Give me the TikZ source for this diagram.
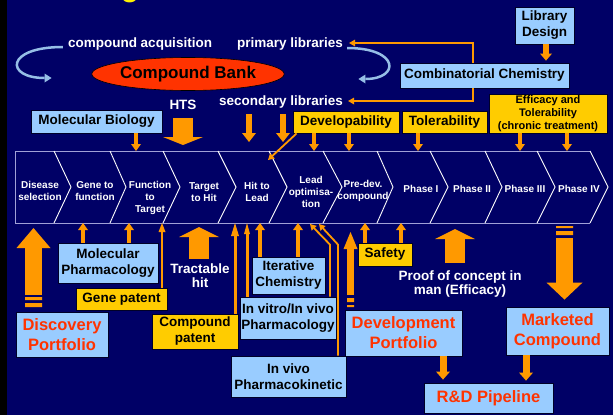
\documentclass[tikz,border=0pt]{standalone}
\usepackage{fontspec}
\setmainfont{Liberation Sans}
\usetikzlibrary{arrows.meta,calc,shapes.geometric}
\definecolor{navy}{RGB}{0,0,102}
\definecolor{lb}{RGB}{153,204,255}
\definecolor{yel}{RGB}{255,204,0}
\definecolor{orng}{RGB}{255,153,0}
\definecolor{redt}{RGB}{255,51,0}
\definecolor{lav}{RGB}{160,160,215}
\definecolor{curv}{RGB}{150,190,230}
\definecolor{edge}{RGB}{0,0,40}
\tikzset{
 lbl/.style={font=\bfseries\fontsize{13.5}{16}\selectfont, align=center, inner sep=0pt},
 bbox/.style={lbl, draw=edge, line width=0.8pt, fill=lb},
 ybox/.style={lbl, draw=edge, line width=0.8pt, fill=yel},
 rbox/.style={bbox, text=redt, font=\bfseries\fontsize{16.5}{20}\selectfont},
 wtxt/.style={lbl, text=white, font=\bfseries\fontsize{13.5}{14}\selectfont},
 cell/.style={font=\bfseries\fontsize{10}{12}\selectfont, text=white, align=center, inner sep=0pt},
 barrow/.style n args={3}{draw=orng, line width=#1pt, -{Triangle[width=#2pt,length=#3pt,line width=0pt]}},
 tarrow/.style={draw=orng, line width=1.8pt, -{Triangle[width=7pt,length=6pt,line width=0pt]}},
 curvarrow/.style={draw=curv, line width=2.5pt, -{Triangle[width=9pt,length=7pt,line width=0pt]}},
 sz/.style 2 args={minimum width=#1pt, minimum height=#2pt},
}
\begin{document}
\begin{tikzpicture}[x=1pt,y=-1pt]
% background
\fill[navy] (0,0) rectangle (613,415);
\fill[black] (0,0) rectangle (7,415);
\useasboundingbox (0,0) rectangle (613,415);
\begin{scope}
\clip (0,0) rectangle (613,415);
\node[anchor=base, text=yellow, font=\bfseries\fontsize{30}{30}\selectfont, inner sep=0pt] (title) at (130,-3.5) {g};
\end{scope}

% process band
\coordinate (bandT) at (0,151);
\coordinate (bandB) at (0,223);
\draw[lav, line width=1pt] (590,151) -- (15,151) -- (15,223) -- (590,223);
\draw[white, line width=0.9pt] (590,151) -- (608,187) -- (590,223);
\foreach \x/\d in {54/17,110/16,163/17,218/18,269/18,323/19,377/16,430/18,485/17,537/18}
  \draw[white, line width=0.9pt] (\x,151) -- (\x+\d,187) -- (\x,223);
\node[cell] (c1) at (40,191) {Disease\\selection};
\node[cell] (c2) at (95,191) {Gene to\\function};
\node[cell] (c3) at (150,198) {Function\\to\\Target};
\node[cell] (c4) at (204,192) {Target\\to Hit};
\node[cell] (c5) at (257,192) {Hit to\\Lead};
\node[cell] (c6) at (311,192) {Lead\\optimisa-\\tion};
\node[cell] (c7) at (363,191) {Pre-dev.\\compound};
\node[cell] (c8) at (421,189) {Phase I};
\node[cell] (c9) at (472,189) {Phase II};
\node[cell] (c10) at (525,189) {Phase III};
\node[cell] (c11) at (579,189) {Phase IV};

% top nodes
\node[bbox, sz={59}{37}] (libd) at (544.5,25.5) {Library\\Design};
\node[bbox, sz={169}{25}] (comb) at (484.5,75.5) {Combinatorial Chemistry};
\node[ellipse, draw=black, line width=0.6pt, fill=redt, minimum width=169pt, minimum height=33pt, inner sep=0pt, font=\bfseries\fontsize{17}{20}\selectfont] (bank) at (188,74) {Compound Bank};
\node[wtxt] (acq) at (140,44) {compound acquisition};
\node[wtxt] (prim) at (290,44) {primary libraries};
\node[wtxt] (sec) at (281,102) {secondary libraries};
\node[wtxt] (hts) at (183,105) {HTS};
\node[bbox, sz={131}{23}] (molbio) at (96.5,121.5) {Molecular Biology};
\node[ybox, sz={106}{22}] (dev) at (346,122) {Developability};
\node[ybox, sz={85}{22}] (tol) at (444.5,122) {Tolerability};
\node[ybox, sz={118}{39}, font=\bfseries\fontsize{11}{12.8}\selectfont] (eff) at (548,113.5) {Efficacy and\\Tolerability\\(chronic treatment)};

% bottom nodes
\node[bbox, sz={100}{40}] (molph) at (108,263) {Molecular\\Pharmacology};
\node[ybox, sz={91}{22}] (gene) at (121.5,299) {Gene patent};
\node[rbox, sz={92}{45}] (disc) at (62,334.5) {Discovery\\Portfolio};
\node[wtxt] (tract) at (200,276) {Tractable\\hit};
\node[ybox, sz={86}{35}] (cpat) at (195,331.5) {Compound\\patent};
\node[bbox, sz={73}{37}] (iter) at (288.5,275.5) {Iterative\\Chemistry};
\node[bbox, sz={96}{42}] (invitro) at (288,318) {In vitro/In vivo\\Pharmacology};
\node[bbox, sz={115}{41}] (pk) at (288.5,376.5) {In vivo\\Pharmacokinetic};
\node[ybox, sz={54}{23}] (safety) at (385,254.5) {Safety};
\node[wtxt] (poc) at (460,284.5) {Proof of concept in\\man (Efficacy)};
\node[rbox, sz={117}{46}] (devp) at (403.5,333) {Development\\Portfolio};
\node[rbox, sz={103}{48}] (mkt) at (557.5,331) {Marketed\\Compound};
\node[rbox, sz={129}{30}] (rd) at (488.5,398) {R\&D Pipeline};

% curved arrows
\draw[curvarrow] ($(acq.west)+(-5,3)$) .. controls (5,47) and (5,78) .. ($(bank.west)+(-40,4)$);
\draw[curvarrow] ($(prim.east)+(4,4)$) .. controls (400,48) and (400,79) .. ($(bank.east)+(74,5)$);

% library design / combinatorial chemistry
\draw[barrow={6}{12}{7}] (libd.south -| 546,0) -- ($(comb.north -| 546,0)+(0,-2)$);
\draw[tarrow] (comb.north -| 473,0) |- ($(prim.east)+(6,-1)$);
\draw[tarrow] (comb.south -| 473,0) |- ($(sec.east)+(5,-1)$);

% arrows onto the band from above
\draw[barrow={20}{40}{8}] ($(hts.south)+(0,8)$) -- ($(hts.south |- bandT)+(0,-6)$);
\draw[barrow={6}{14}{9}] ($(sec.south -| 249,0)+(0,6)$) -- ($(bandT -| 249,0)+(0,-9)$);
\draw[barrow={6}{14}{9}] ($(sec.south -| 283,0)+(0,6)$) -- ($(bandT -| 283,0)+(0,-9)$);
\draw[tarrow] ($(dev.south west)+(4,0)$) -- ($(bandT -| 268,0)+(0,9)$);
\foreach \n/\x in {molbio/136,dev/314,dev/349,tol/418,eff/520,eff/567}
  \draw[barrow={4}{10}{7}] (\n.south -| \x,0) -- (bandT -| \x,0);

% arrows onto the band from below
\foreach \n/\x in {molph/83,molph/129,iter/260,iter/298,safety/365,safety/401}
  \draw[barrow={4}{10}{7}] (\n.north -| \x,0) -- (bandB -| \x,0);
\draw[barrow={2.5}{7}{9}] (gene.north -| 162,0) -- (bandB -| 162,0);
\draw[barrow={3}{8}{13}] (cpat.north -| 235,0) -- (bandB -| 235,0);
\draw[barrow={3}{6}{11}] (invitro.north -| 247,0) -- (bandB -| 247,0);
\draw[tarrow] (invitro.north -| 330,0) -- ++(0,-52) -- ($(bandB -| 310,0)+(0,1)$);
\draw[tarrow] (pk.north -| 338,0) -- ++(0,-111) -- ($(bandB -| 319,0)+(0,1)$);

% big block arrows
\draw[barrow={17}{34}{20}] ($(disc.north -| 33.5,0)+(0,-17)$) -- ($(bandB -| 33.5,0)+(0,5)$);
\fill[orng] (25,297) rectangle (42,300) (25,303) rectangle (42,307);
\draw[barrow={20}{40}{10}] ($(tract.north)+(-1,-5)$) -- ($(bandB -| 199,0)+(0,4)$);
\draw[barrow={7}{14}{17}] ($(devp.north -| 350.5,0)+(0,-15)$) -- ($(bandB -| 350.5,0)+(0,9)$);
\fill[orng] (347,298) rectangle (354,302) (347,305) rectangle (354,307);
\draw[barrow={20}{40}{10}] ($(poc.north)+(-5,-8)$) -- ($(bandB -| 455,0)+(0,6)$);
\fill[orng] (556,226) rectangle (573,228) (556,231) rectangle (573,235);
\draw[barrow={17}{36}{17}] ($(bandB -| 564.5,0)+(0,15)$) -- ($(mkt.north -| 564.5,0)+(0,-7)$);

% to R&D pipeline
\draw[barrow={7}{14}{8}] (devp.south -| 443,0) -- ($(rd.north -| 443,0)+(0,-3)$);
\draw[barrow={7}{14}{8}] (mkt.south -| 526,0) -- ($(rd.north -| 526,0)+(0,-2)$);
\end{tikzpicture}
\end{document}
